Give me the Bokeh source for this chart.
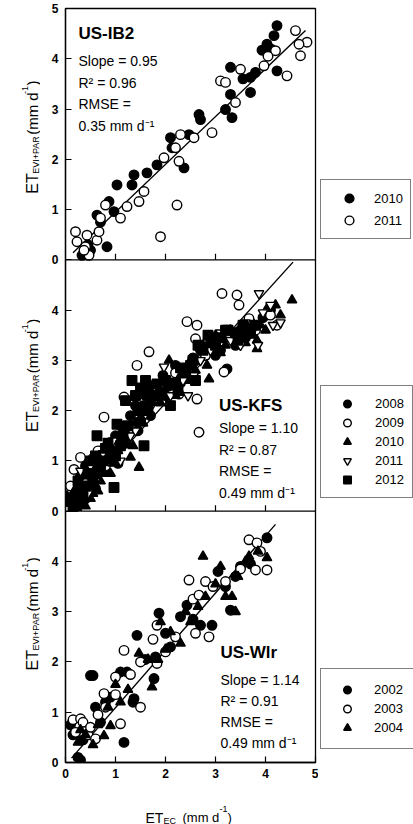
from bokeh.plotting import figure
from bokeh.layouts import column, row
from bokeh.models import Range1d, Label, Legend, LegendItem, Span
from bokeh.embed import file_html
from bokeh.resources import INLINE

FONT = "Liberation Sans"

# ---------------- data ----------------
x_ticks = [0, 1, 2, 3, 4, 5]
# stacked y axis: panel US-Wlr 0-5, US-KFS 5-10, US-IB2 10-15
y_tick_values = list(range(16))
y_tick_labels = ["0", "1", "2", "3", "4", "0", "1", "2", "3", "4", "0", "1", "2", "3", "4", "5"]
panel_offsets = {"US-IB2": 10, "US-KFS": 5, "US-Wlr": 0}

# Panel 1: US-IB2
ib2_2010_x = [4.23, 4.17, 4.03, 3.93, 4.23, 3.30, 3.70, 3.80, 3.70, 3.30, 3.20, 3.33, 2.67, 2.70, 2.10, 2.13,
              2.37, 2.47, 1.83, 1.63, 1.37, 1.33, 1.03, 0.97, 0.87, 0.63, 0.70, 0.83, 0.33, 0.50, 0.45, 4.10, 3.55]
ib2_2010_y = [4.66, 4.46, 4.29, 4.17, 3.76, 3.83, 3.63, 3.73, 3.33, 3.29, 2.99, 2.83, 2.89, 2.79, 2.43, 2.23,
              1.83, 2.49, 1.89, 1.73, 1.69, 1.49, 1.49, 0.96, 1.16, 0.89, 0.75, 0.26, 0.09, 0.19, 0.30, 4.20, 3.60]
ib2_2011_x = [4.60, 4.83, 4.70, 4.43, 4.67, 4.20, 3.97, 3.50, 3.10, 3.20, 3.40, 2.93, 2.57, 2.30, 2.20, 2.27,
              2.23, 1.97, 1.90, 1.57, 1.47, 1.23, 1.10, 0.80, 0.70, 0.20, 0.23, 0.40, 0.63, 0.67, 0.47, 0.37, 0.43, 4.05]
ib2_2011_y = [4.56, 4.33, 4.06, 3.66, 4.29, 4.16, 3.86, 3.79, 3.56, 3.53, 3.13, 2.53, 2.43, 2.49, 2.23, 1.96,
              1.09, 2.03, 0.46, 1.36, 1.16, 1.06, 0.83, 1.09, 0.83, 0.56, 0.36, 0.26, 0.39, 0.56, 0.09, 0.19, 0.49, 4.05]
ib2_fit = {"slope": 0.95, "intercept": 0.0, "x0": 0.15, "x1": 4.8}
ib2_stats = ["US-IB2", "Slope = 0.95", "R² = 0.96", "RMSE =", "0.35 mm d⁻¹"]
ib2_stats_y = [4.50, 3.96, 3.52, 3.10, 2.66]

# Panel 2: US-KFS  (x, y) pairs
kfs_2008 = [(0.15, 0.3), (0.2, 0.5), (0.25, 0.2), (0.3, 0.7), (0.35, 0.45), (0.4, 0.9), (0.45, 0.6), (0.5, 0.8),
            (0.55, 1.05), (0.6, 0.7), (0.7, 1.2), (0.75, 0.95), (0.85, 1.3), (0.9, 1.05), (1.0, 1.5), (1.1, 1.7),
            (1.2, 1.35), (1.3, 1.9), (1.4, 2.1), (1.5, 1.8), (1.6, 2.3), (1.75, 2.5), (1.85, 2.2), (1.95, 2.7),
            (2.1, 2.5), (2.2, 2.9), (2.4, 2.75), (2.55, 3.05), (2.7, 3.2), (2.9, 3.35), (3.1, 3.2), (3.3, 3.45),
            (3.23, 2.83), (3.5, 3.6), (3.7, 3.75), (3.95, 3.85), (4.1, 4.0),
            (0.1, 0.2), (0.3, 0.3), (0.4, 0.25), (0.5, 0.45), (0.6, 0.45), (0.65, 0.95), (0.8, 0.8), (0.95, 1.2),
            (1.05, 0.95), (1.25, 1.55), (1.45, 1.6), (1.55, 2.1), (1.7, 1.9), (2.0, 2.3), (2.3, 2.55), (2.6, 3.0),
            (2.8, 3.1), (3.0, 3.1), (3.4, 3.3), (3.6, 3.45)]
kfs_2009 = [(0.1, 0.5), (0.17, 0.83), (0.3, 1.07), (0.25, 0.3), (0.4, 0.55), (0.5, 1.0), (0.65, 1.2), (0.77, 1.87),
            (0.8, 0.9), (1.0, 1.3), (1.17, 2.27), (1.25, 1.6), (1.43, 2.9), (1.5, 2.0), (1.67, 3.17), (1.8, 2.4),
            (2.0, 2.6), (2.27, 2.33), (2.43, 3.77), (2.6, 3.43), (2.63, 3.7), (2.63, 2.23), (2.67, 1.57), (2.8, 3.1),
            (3.0, 3.4), (3.13, 4.33), (3.17, 2.77), (3.3, 3.5), (3.43, 4.3), (3.47, 4.1), (3.67, 3.83), (3.8, 3.6),
            (4.23, 3.7), (4.1, 3.9), (2.2, 2.75)]
kfs_2010 = [(0.03, 0.3), (0.1, 0.15), (0.23, 0.07), (0.3, 0.4), (0.35, 0.2), (0.45, 0.5), (0.55, 0.35), (0.6, 0.9),
            (0.7, 0.6), (0.8, 1.0), (0.9, 0.75), (1.05, 1.2), (1.3, 1.07), (1.47, 0.87), (1.2, 1.6), (1.4, 1.75),
            (1.6, 2.05), (1.8, 2.3), (2.07, 3.0), (2.0, 2.45), (2.3, 2.7), (2.5, 3.0), (2.83, 2.9), (2.87, 2.63),
            (2.75, 3.3), (3.0, 3.5), (3.2, 3.3), (3.5, 3.65), (3.83, 3.4), (3.83, 3.23), (3.9, 3.7), (4.03, 4.03),
            (4.3, 3.9), (4.53, 4.2), (3.7, 3.5),
            (0.15, 0.05), (0.2, 0.45), (0.4, 0.1), (0.5, 0.25), (0.65, 0.4), (0.75, 0.75), (0.95, 0.95), (1.1, 1.5),
            (1.35, 1.3), (1.55, 1.75), (1.7, 2.4), (1.9, 2.15), (2.2, 2.3), (2.45, 2.6), (2.6, 2.8), (3.1, 3.15),
            (3.3, 3.6), (3.6, 3.35), (4.0, 3.6), (4.2, 4.1)]
kfs_2011 = [(0.2, 0.25), (0.3, 0.8), (0.45, 0.35), (0.6, 0.6), (0.75, 1.15), (0.95, 1.4), (1.1, 1.0), (1.3, 1.5),
            (1.6, 1.93), (1.75, 2.15), (1.97, 2.87), (2.1, 2.3), (2.35, 2.6), (2.57, 2.7), (2.7, 3.0), (2.9, 3.2),
            (3.1, 3.55), (3.3, 3.4), (3.5, 3.3), (3.6, 3.75), (3.75, 3.6), (3.87, 4.33), (3.95, 3.95), (4.1, 4.1),
            (4.3, 3.75), (3.85, 3.3), (4.15, 3.7), (2.45, 2.3), (1.4, 1.6), (0.5, 0.9)]
kfs_2012 = [(0.15, 0.1), (0.25, 0.6), (0.35, 0.35), (0.45, 0.75), (0.5, 1.0), (0.63, 1.5), (0.7, 0.85), (0.8, 1.25),
            (0.97, 0.47), (1.03, 1.73), (1.0, 1.1), (1.15, 1.5), (1.33, 2.6), (1.2, 2.2), (1.45, 2.0), (1.57, 2.43),
            (1.57, 1.3), (1.7, 2.2), (1.83, 2.53), (1.9, 2.35), (2.1, 2.1), (2.2, 2.55), (2.4, 2.8), (2.55, 3.0),
            (2.75, 3.2), (2.97, 3.43), (3.1, 3.45), (3.25, 3.6), (3.4, 3.55), (3.6, 3.6), (3.8, 3.7), (2.3, 2.85),
            (0.85, 1.35), (1.6, 2.6),
            (0.2, 0.3), (0.3, 0.15), (0.4, 0.5), (0.55, 0.6), (0.6, 1.1), (0.75, 1.0), (0.9, 1.2), (1.1, 1.3),
            (1.25, 1.7), (1.4, 2.3), (1.5, 2.45), (1.65, 2.0), (1.8, 2.3), (2.0, 2.6), (2.25, 2.4), (2.5, 2.9),
            (2.65, 3.3), (2.85, 3.5), (3.0, 3.3), (3.2, 3.6), (3.45, 3.4), (3.55, 3.7), (3.7, 3.55), (2.6, 2.6)]
kfs_fit = {"slope": 1.10, "intercept": -0.05, "x0": 0.15, "x1": 4.55}
kfs_stats = ["US-KFS", "Slope = 1.10", "R² = 0.87", "RMSE =", "0.49 mm d⁻¹"]
kfs_stats_y = [2.10, 1.66, 1.22, 0.80, 0.36]

# Panel 3: US-Wlr  (x, y) pairs
wlr_2002 = [(0.1, 0.75), (0.15, 0.55), (0.25, 0.1), (0.3, 0.05), (0.2, 0.6), (0.35, 0.45), (0.5, 1.73), (0.55, 1.73),
            (0.6, 1.1), (0.7, 0.8), (0.8, 1.2), (0.9, 1.3), (1.1, 1.8), (1.17, 0.4), (1.23, 1.8), (1.37, 1.27),
            (1.35, 1.2), (1.43, 2.53), (1.6, 2.05), (1.77, 1.67), (1.8, 2.1), (1.87, 2.97), (2.0, 2.57), (2.1, 2.3),
            (2.3, 2.9), (2.43, 3.13), (2.55, 2.85), (2.7, 2.73), (2.93, 2.73), (3.05, 3.8), (3.3, 3.03), (3.2, 3.5),
            (3.5, 3.9), (3.7, 3.95), (4.03, 4.47), (3.4, 3.7)]
wlr_2003 = [(0.15, 0.85), (0.2, 0.6), (0.3, 0.87), (0.35, 0.8), (0.45, 0.55), (0.5, 0.7), (0.6, 0.47), (0.65, 0.95),
            (0.77, 1.37), (0.8, 1.1), (1.0, 1.7), (1.0, 1.35), (1.1, 0.77), (1.17, 2.23), (1.3, 1.75), (1.5, 1.1),
            (1.5, 2.0), (1.75, 2.45), (1.83, 1.97), (1.83, 2.73), (2.0, 2.2), (2.2, 2.5), (2.47, 3.63), (2.55, 3.25),
            (2.6, 2.57), (2.67, 3.33), (2.8, 3.6), (2.87, 2.5), (2.95, 3.5), (3.2, 3.6), (3.5, 3.85), (3.67, 4.43),
            (3.83, 4.37), (3.8, 3.83), (4.03, 3.83), (3.9, 4.2)]
wlr_2004 = [(0.25, 0.4), (0.3, 0.65), (0.4, 0.55), (0.55, 0.35), (0.65, 0.75), (0.77, 0.53), (0.85, 1.1), (0.9, 0.73),
            (1.0, 1.55), (1.1, 1.2), (1.25, 1.45), (1.47, 2.17), (1.73, 1.5), (1.65, 2.05), (1.9, 2.8), (2.0, 2.25),
            (2.3, 2.37), (2.4, 3.0), (2.5, 2.8), (2.65, 3.1), (2.75, 4.1), (2.8, 3.3), (3.0, 3.55), (3.1, 3.9),
            (3.2, 3.3), (3.33, 3.3), (3.45, 3.7), (3.6, 4.0), (3.67, 4.1), (3.85, 4.2), (4.03, 4.07), (3.4, 3.0),
            (2.1, 2.6), (1.85, 2.05)]
wlr_fit = {"slope": 1.14, "intercept": -0.05, "x0": 0.12, "x1": 4.2}
wlr_stats = ["US-Wlr", "Slope = 1.14", "R² = 0.91", "RMSE =", "0.49 mm d⁻¹"]
wlr_stats_y = [2.18, 1.64, 1.22, 0.80, 0.38]

# styles of the series (marker, filled)
STYLE = {"2008": ("circle", True), "2009": ("circle", False), "2010": ("triangle", True),
         "2011": ("inverted_triangle", False), "2012": ("square", True),
         "2002": ("circle", True), "2003": ("circle", False), "2004": ("triangle", True)}
IB2_STYLE = {"2010": ("circle", True), "2011": ("circle", False)}


def unzip(pairs):
    return [a for a, b in pairs], [b for a, b in pairs]


def marker_kw(marker, filled, size=9.5):
    return dict(marker=marker, size=size, fill_color="black" if filled else "white",
                line_color="black", line_width=1.4)


# ---------------- main stacked figure ----------------
main = figure(frame_width=250, frame_height=754, x_range=Range1d(0, 5), y_range=Range1d(0, 15),
              min_border_left=25, min_border_right=3, min_border_top=8, min_border_bottom=32,
              output_backend="svg", toolbar_location=None,
              background_fill_color="white", border_fill_color="white")
main.outline_line_color = "black"
main.outline_line_width = 1.3
main.grid.visible = False
for ax in (main.xaxis[0], main.yaxis[0]):
    ax.major_tick_in = 6
    ax.major_tick_out = 0
    ax.minor_tick_line_color = None
    ax.axis_line_color = "black"
    ax.axis_line_width = 1.3
    ax.major_tick_line_color = "black"
    ax.major_tick_line_width = 1.2
    ax.major_label_text_font = FONT
    ax.major_label_text_font_size = "12px"
    ax.major_label_text_font_style = "bold"
    ax.major_label_text_color = "black"
main.xaxis.ticker = x_ticks
main.yaxis.ticker = y_tick_values
main.yaxis.major_label_overrides = {v: l for v, l in zip(y_tick_values, y_tick_labels)}
main.yaxis.major_label_standoff = 7
main.xaxis.major_label_standoff = 6

# panel separators and inner x ticks of the upper panels
inner_ticks = x_ticks[1:-1]
for off in (panel_offsets["US-KFS"], panel_offsets["US-IB2"]):
    main.add_layout(Span(location=off, dimension="width", line_color="black", line_width=1.3))
    main.segment(x0=inner_ticks, y0=[off] * len(inner_ticks), x1=inner_ticks,
                 y1=[off + 0.12] * len(inner_ticks), line_color="black", line_width=1.2)


def add_fit(fit, off):
    xs = [fit["x0"], fit["x1"]]
    ys = [fit["slope"] * v + fit["intercept"] + off for v in xs]
    main.line(xs, ys, line_color="black", line_width=1.4)


def add_stats(x, ys, texts, off):
    for i, (yy, t) in enumerate(zip(ys, texts)):
        main.add_layout(Label(x=x, y=yy + off, text=t, text_font=FONT,
                              text_font_size="17px" if i == 0 else "14px",
                              text_font_style="bold" if i == 0 else "normal",
                              text_baseline="middle", text_align="left", text_color="black"))


# US-IB2
o = panel_offsets["US-IB2"]
add_fit(ib2_fit, o)
main.scatter(ib2_2010_x, [v + o for v in ib2_2010_y], **marker_kw(*IB2_STYLE["2010"]))
main.scatter(ib2_2011_x, [v + o for v in ib2_2011_y], **marker_kw(*IB2_STYLE["2011"]))
add_stats(0.26, ib2_stats_y, ib2_stats, o)

# US-KFS
o = panel_offsets["US-KFS"]
add_fit(kfs_fit, o)
for yr, pairs in [("2008", kfs_2008), ("2009", kfs_2009), ("2010", kfs_2010), ("2011", kfs_2011), ("2012", kfs_2012)]:
    xs, ys = unzip(pairs)
    main.scatter(xs, [v + o for v in ys], **marker_kw(*STYLE[yr]))
add_stats(3.07, kfs_stats_y, kfs_stats, o)

# US-Wlr
o = panel_offsets["US-Wlr"]
add_fit(wlr_fit, o)
for yr, pairs in [("2002", wlr_2002), ("2003", wlr_2003), ("2004", wlr_2004)]:
    xs, ys = unzip(pairs)
    main.scatter(xs, [v + o for v in ys], **marker_kw(*STYLE[yr]))
add_stats(3.10, wlr_stats_y, wlr_stats, o)

# ---------------- y-title strip ----------------
H = 794
ytf = figure(width=40, height=H, x_range=Range1d(0, 40), y_range=Range1d(0, H),
             x_axis_location=None, y_axis_location=None, min_border=0,
             output_backend="svg", toolbar_location=None)
ytf.outline_line_color = None
ytf.grid.visible = False
title_parts = [("ET", 195, 32, "16px"), ("EVI+PAR", 174, 35, "9px"),
               ("(mm d", 133, 32, "15px"), ("-1", 90, 24, "9px"), (")", 81, 32, "15px")]
for shift in (0, 251, 502):
    for t, sy, sx, fs in title_parts:
        ytf.add_layout(Label(x=sx, y=H - (sy + shift), text=t, angle=90, angle_units="deg",
                             text_font=FONT, text_font_size=fs, text_align="left",
                             text_baseline="alphabetic", text_color="black"))

# ---------------- legend strip ----------------
# the strip's ranges lie away from the data, so its renderers only feed the legends
lgf = figure(width=95, height=H, x_range=Range1d(-20, -19), y_range=Range1d(-20, -19),
             x_axis_location=None, y_axis_location=None, min_border=0,
             output_backend="svg", toolbar_location=None)
lgf.outline_line_color = None
lgf.grid.visible = False


def make_legend(series, styles, vy, padding, pitch, gw, standoff):
    items = []
    for yr, xs, ys in series:
        r = lgf.scatter(x=xs, y=ys, **marker_kw(*styles[yr]))
        items.append(LegendItem(label=yr, renderers=[r]))
    lg = Legend(items=items, location=(2, vy), orientation="vertical", padding=padding, spacing=0,
                glyph_width=gw, glyph_height=pitch, label_height=pitch, label_standoff=standoff,
                label_text_font=FONT, label_text_font_size="13px", label_text_color="black",
                border_line_color="black", border_line_width=1.5, background_fill_color="white",
                background_fill_alpha=1.0, margin=0)
    lgf.add_layout(lg, "center")


FRAME_BOTTOM = 761
make_legend([("2010", ib2_2010_x, ib2_2010_y), ("2011", ib2_2011_x, ib2_2011_y)], IB2_STYLE,
            FRAME_BOTTOM - 238, 7, 22, 42, 4)
make_legend([(yr, *unzip(pr)) for yr, pr in [("2008", kfs_2008), ("2009", kfs_2009), ("2010", kfs_2010),
                                             ("2011", kfs_2011), ("2012", kfs_2012)]], STYLE,
            FRAME_BOTTOM - 497, 8, 19, 36, 10)
make_legend([(yr, *unzip(pr)) for yr, pr in [("2002", wlr_2002), ("2003", wlr_2003), ("2004", wlr_2004)]], STYLE,
            FRAME_BOTTOM - 748, 11, 19, 30, 12)

# ---------------- x-title strip ----------------
xtf = figure(width=413, height=30, x_range=Range1d(0, 413), y_range=Range1d(0, 30),
             x_axis_location=None, y_axis_location=None, min_border=0,
             output_backend="svg", toolbar_location=None)
xtf.outline_line_color = None
xtf.grid.visible = False
xtitle_parts = [("ET", 145, 7, "14px"), ("EC", 163, 4, "9px"), ("(mm d", 182, 7, "13px"),
                ("-1", 219, 16, "9px"), (")", 227, 7, "13px")]
for t, sx, yy, fs in xtitle_parts:
    xtf.add_layout(Label(x=sx, y=yy, text=t, text_font=FONT, text_font_size=fs,
                         text_align="left", text_baseline="alphabetic", text_color="black"))

layout = column(row(ytf, main, lgf, spacing=0), xtf, spacing=0)
open("out.html", "w").write(file_html(layout, INLINE))
